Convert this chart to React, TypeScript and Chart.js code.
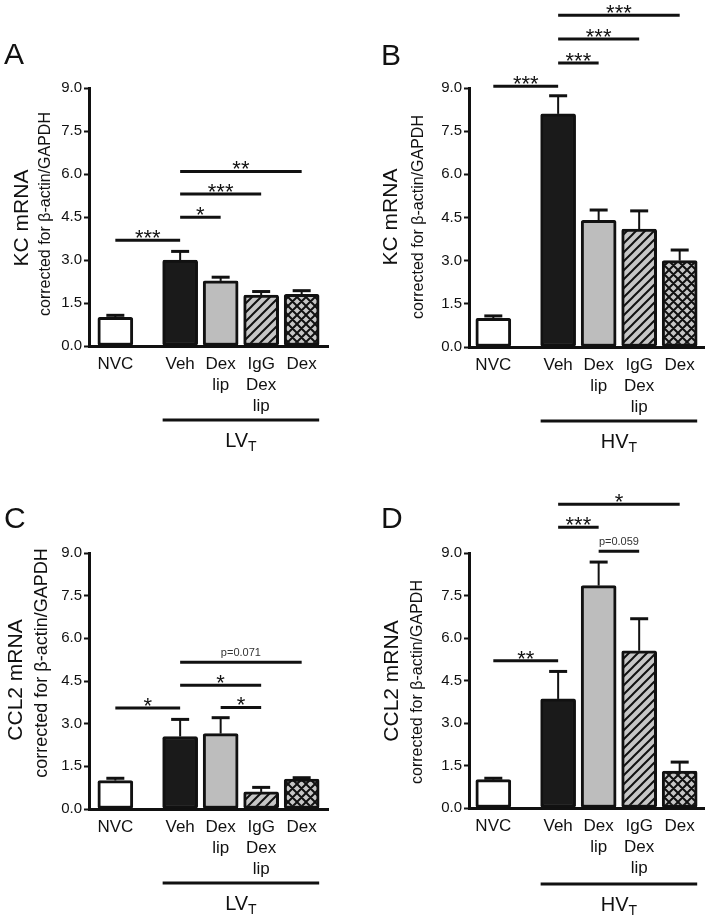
import React, { useEffect, useRef } from 'react';
import { Chart, registerables } from 'chart.js';

Chart.register(...registerables);

// ---------- data ----------
const categories: string[][] = [['NVC'], ['Veh'], ['Dex', 'lip'], ['IgG', 'Dex', 'lip'], ['Dex']];
const barPositions = [0.65, 2.25, 3.25, 4.25, 5.25];
const yTickValues = [0, 1.5, 3, 4.5, 6, 7.5, 9];

// Panel A: KC, low tidal volume
const kcLowValues = [1.0, 3.0, 2.27, 1.78, 1.8];
const kcLowErrors = [0.07, 0.3, 0.13, 0.12, 0.13];
const kcLowSig: [number, number, number, string][] = [
  [0, 1, 3.69, '***'],
  [1, 2, 4.49, '*'],
  [1, 3, 5.3, '***'],
  [1, 4, 6.09, '**'],
];

// Panel B: KC, high tidal volume
const kcHighValues = [1.0, 8.1, 4.4, 4.1, 3.0];
const kcHighErrors = [0.08, 0.63, 0.36, 0.63, 0.37];
const kcHighSig: [number, number, number, string][] = [
  [0, 1, 9.06, '***'],
  [1, 2, 9.87, '***'],
  [1, 3, 10.7, '***'],
  [1, 4, 11.53, '***'],
];

// Panel C: CCL2, low tidal volume
const ccl2LowValues = [1.0, 2.55, 2.65, 0.6, 1.05];
const ccl2LowErrors = [0.08, 0.6, 0.56, 0.16, 0.05];
const ccl2LowSig: [number, number, number, string][] = [
  [0, 1, 3.55, '*'],
  [2, 3, 3.57, '*'],
  [1, 3, 4.35, '*'],
  [1, 4, 5.16, 'p=0.071'],
];

// Panel D: CCL2, high tidal volume
const ccl2HighValues = [1.0, 3.85, 7.85, 5.55, 1.3];
const ccl2HighErrors = [0.05, 0.97, 0.83, 1.13, 0.32];
const ccl2HighSig: [number, number, number, string][] = [
  [0, 1, 5.2, '**'],
  [2, 3, 9.06, 'p=0.059'],
  [1, 2, 9.91, '***'],
  [1, 4, 10.72, '*'],
];

const FONT = "'Liberation Sans', Arial, Helvetica, sans-serif";
const INK = '#111111';

type PanelCfg = {
  letter: string;
  title: string;
  group: string;
  values: number[];
  errors: number[];
  sig: [number, number, number, string][];
  left: number;
  top: number;
  w: number;
  h: number;
  area: { l: number; r: number; t: number; b: number };
  xMin: number;
  xMax: number;
  title1: [number, number];
  title2: [number, number];
  subSize: number;
  letterPos: [number, number];
  groupDy: number;
};

const panels: PanelCfg[] = [
  {
    letter: 'A', title: 'KC mRNA', group: 'LV',
    values: kcLowValues, errors: kcLowErrors, sig: kcLowSig,
    left: 0, top: 0, w: 354, h: 460,
    area: { l: 89, r: 328, t: 88, b: 346 }, xMin: 0, xMax: 5.9,
    title1: [22, 218], title2: [46, 214], subSize: 16, letterPos: [4, 64], groupDy: 74,
  },
  {
    letter: 'B', title: 'KC mRNA', group: 'HV',
    values: kcHighValues, errors: kcHighErrors, sig: kcHighSig,
    left: 354, top: 0, w: 355, h: 460,
    area: { l: 115, r: 350, t: 88, b: 347 }, xMin: 0.05, xMax: 5.85,
    title1: [37, 217], title2: [65, 217], subSize: 16, letterPos: [27, 65], groupDy: 74,
  },
  {
    letter: 'C', title: 'CCL2 mRNA', group: 'LV',
    values: ccl2LowValues, errors: ccl2LowErrors, sig: ccl2LowSig,
    left: 0, top: 460, w: 354, h: 459,
    area: { l: 89, r: 328, t: 93, b: 349 }, xMin: 0, xMax: 5.9,
    title1: [16, 220], title2: [42, 203], subSize: 18, letterPos: [4, 68], groupDy: 74,
  },
  {
    letter: 'D', title: 'CCL2 mRNA', group: 'HV',
    values: ccl2HighValues, errors: ccl2HighErrors, sig: ccl2HighSig,
    left: 354, top: 460, w: 355, h: 459,
    area: { l: 115, r: 350, t: 93, b: 348 }, xMin: 0.05, xMax: 5.85,
    title1: [38, 221], title2: [64, 222], subSize: 16, letterPos: [27, 68], groupDy: 76,
  },
];

function makePattern(ctx: CanvasRenderingContext2D, kind: 'diag' | 'cross'): CanvasPattern | string {
  const s = 9;
  const c = document.createElement('canvas');
  c.width = s;
  c.height = s;
  const g = c.getContext('2d');
  if (!g) return '#c4c4c4';
  g.fillStyle = '#c6c6c6';
  g.fillRect(0, 0, s, s);
  g.strokeStyle = INK;
  g.lineWidth = 2;
  g.beginPath();
  for (let k = -1; k <= 1; k++) {
    g.moveTo(k * s - 1, s + 1);
    g.lineTo(k * s + s + 1, -1);
    if (kind === 'cross') {
      g.moveTo(k * s - 1, -1);
      g.lineTo(k * s + s + 1, s + 1);
    }
  }
  g.stroke();
  return ctx.createPattern(c, 'repeat') || '#c4c4c4';
}

function Panel({ cfg }: { cfg: PanelCfg }) {
  const ref = useRef<HTMLCanvasElement | null>(null);

  useEffect(() => {
    const canvas = ref.current;
    if (!canvas) return;
    const ctx0 = canvas.getContext('2d');
    if (!ctx0) return;
    const hatch = makePattern(ctx0, 'diag');
    const cross = makePattern(ctx0, 'cross');

    const annot = {
      id: 'annot',
      afterDatasetsDraw(chart: any) {
        const { ctx, scales } = chart;
        const xs = scales.x;
        const ys = scales.y;
        ctx.save();
        ctx.strokeStyle = INK;
        cfg.values.forEach((v, i) => {
          const x = xs.getPixelForValue(barPositions[i]);
          const y0 = ys.getPixelForValue(v);
          const y1 = ys.getPixelForValue(v + cfg.errors[i]);
          ctx.lineWidth = 2;
          ctx.beginPath();
          ctx.moveTo(x, y0);
          ctx.lineTo(x, y1);
          ctx.stroke();
          ctx.lineWidth = 3;
          ctx.beginPath();
          ctx.moveTo(x - 9, y1);
          ctx.lineTo(x + 9, y1);
          ctx.stroke();
        });
        ctx.restore();
      },
      afterDraw(chart: any) {
        const { ctx, scales } = chart;
        const xs = scales.x;
        const ys = scales.y;
        ctx.save();
        ctx.fillStyle = INK;
        ctx.strokeStyle = INK;

        // significance bars
        cfg.sig.forEach(([a, b, yv, label]) => {
          const xa = xs.getPixelForValue(barPositions[a]);
          const xb = xs.getPixelForValue(barPositions[b]);
          const y = ys.getPixelForValue(yv);
          ctx.lineWidth = 3;
          ctx.beginPath();
          ctx.moveTo(xa, y);
          ctx.lineTo(xb, y);
          ctx.stroke();
          ctx.textAlign = 'center';
          ctx.textBaseline = 'alphabetic';
          if (label.startsWith('p')) {
            ctx.font = `11px ${FONT}`;
            ctx.fillStyle = '#333';
            ctx.fillText(label, (xa + xb) / 2, y - 6);
            ctx.fillStyle = INK;
          } else {
            ctx.font = `22px ${FONT}`;
            ctx.fillText(label, (xa + xb) / 2, y + 5);
          }
        });

        // y-axis titles
        ctx.save();
        ctx.translate(cfg.title1[0], cfg.title1[1]);
        ctx.rotate(-Math.PI / 2);
        ctx.textAlign = 'center';
        ctx.textBaseline = 'middle';
        ctx.font = `21px ${FONT}`;
        ctx.fillText(cfg.title, 0, 0);
        ctx.restore();
        ctx.save();
        ctx.translate(cfg.title2[0], cfg.title2[1]);
        ctx.rotate(-Math.PI / 2);
        ctx.textAlign = 'center';
        ctx.textBaseline = 'middle';
        ctx.font = `${cfg.subSize}px ${FONT}`;
        ctx.fillText('corrected for \u03B2-actin/GAPDH', 0, 0);
        ctx.restore();

        // panel letter
        ctx.font = `30px ${FONT}`;
        ctx.textAlign = 'left';
        ctx.textBaseline = 'alphabetic';
        ctx.fillText(cfg.letter, cfg.letterPos[0], cfg.letterPos[1]);

        // group line + label
        const gx0 = xs.getPixelForValue(barPositions[1]) - 17.5;
        const gx1 = xs.getPixelForValue(barPositions[4]) + 17.5;
        const gy = chart.chartArea.bottom + cfg.groupDy;
        ctx.lineWidth = 3;
        ctx.beginPath();
        ctx.moveTo(gx0, gy);
        ctx.lineTo(gx1, gy);
        ctx.stroke();
        ctx.font = `20px ${FONT}`;
        const wMain = ctx.measureText(cfg.group).width;
        ctx.font = `14px ${FONT}`;
        const wSub = ctx.measureText('T').width;
        const startX = (gx0 + gx1) / 2 - (wMain + wSub) / 2;
        ctx.textAlign = 'left';
        ctx.font = `20px ${FONT}`;
        ctx.fillText(cfg.group, startX, gy + 27);
        ctx.font = `14px ${FONT}`;
        ctx.fillText('T', startX + wMain, gy + 31);

        ctx.restore();
      },
    };

    const chart = new Chart(canvas, {
      type: 'bar',
      data: {
        datasets: [
          {
            data: cfg.values.map((v, i) => ({ x: barPositions[i], y: v })) as any,
            backgroundColor: ['#ffffff', '#1a1a1a', '#bdbdbd', hatch, cross] as any,
            borderColor: INK,
            borderWidth: 3,
            borderSkipped: false,
            borderRadius: 2,
            barThickness: 35,
          },
        ],
      },
      options: {
        responsive: false,
        animation: false,
        devicePixelRatio: 1,
        layout: { padding: { left: 0, top: cfg.area.t, right: cfg.w - cfg.area.r, bottom: 0 } },
        plugins: { legend: { display: false }, tooltip: { enabled: false } },
        scales: {
          x: {
            type: 'linear',
            min: cfg.xMin,
            max: cfg.xMax,
            offset: false,
            z: 1,
            grid: { display: false, drawTicks: false, offset: false },
            border: { display: true, width: 3, color: INK },
            afterBuildTicks: (s: any) => {
              s.ticks = barPositions.map((v) => ({ value: v }));
            },
            afterFit: (s: any) => {
              s.height = cfg.h - cfg.area.b;
            },
            ticks: {
              autoSkip: false,
              maxRotation: 0,
              minRotation: 0,
              padding: 8,
              color: INK,
              font: { family: FONT, size: 17, lineHeight: 1.235 },
              callback: (_v: any, i: number) => categories[i],
            },
          } as any,
          y: {
            type: 'linear',
            min: 0,
            max: 9,
            afterBuildTicks: (s: any) => {
              s.ticks = yTickValues.map((v) => ({ value: v }));
            },
            afterFit: (s: any) => {
              s.width = cfg.area.l;
            },
            grid: {
              display: true,
              drawOnChartArea: false,
              drawTicks: true,
              tickLength: 5,
              tickWidth: 2,
              tickColor: INK,
            },
            border: { display: true, width: 3, color: INK },
            ticks: {
              padding: 2,
              color: INK,
              font: { family: FONT, size: 15 },
              callback: (v: any) => Number(v).toFixed(1),
            },
          } as any,
        },
      },
      plugins: [annot],
    });

    return () => chart.destroy();
  }, [cfg]);

  return (
    <canvas
      ref={ref}
      width={cfg.w}
      height={cfg.h}
      style={{ position: 'absolute', left: cfg.left, top: cfg.top, width: cfg.w, height: cfg.h }}
    />
  );
}

export default function App() {
  return (
    <div style={{ position: 'absolute', left: 0, top: 0, width: 709, height: 919, background: '#ffffff' }}>
      {panels.map((p) => (
        <Panel key={p.letter} cfg={p} />
      ))}
    </div>
  );
}
